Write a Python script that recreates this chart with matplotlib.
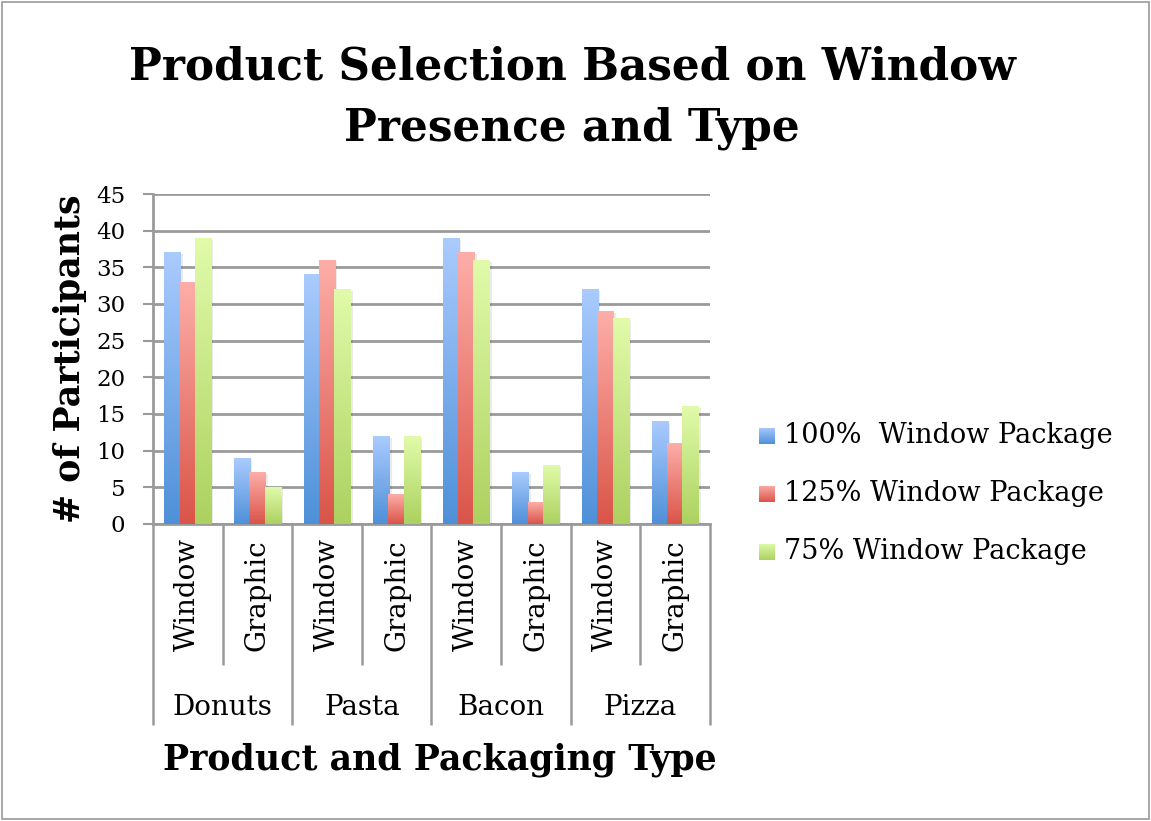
import numpy as np
import matplotlib.pyplot as plt
from matplotlib.colors import LinearSegmentedColormap
from matplotlib.patches import Rectangle
import matplotlib.transforms as mtransforms

plt.rcParams['font.family'] = ['DejaVu Serif']

products = ['Donuts', 'Pasta', 'Bacon', 'Pizza']
pack_types = ['Window', 'Graphic']
series_names = ['100%  Window Package', '125% Window Package', '75% Window Package']

# order: Donuts-Window, Donuts-Graphic, Pasta-Window, ...
win100 = [37, 9, 34, 12, 39, 7, 32, 14]
win125 = [33, 7, 36, 4, 37, 3, 29, 11]
win75 = [39, 5, 32, 12, 36, 8, 28, 16]

# (top colour, bottom colour) for the gradient fill
grad_colors = [('#aacbfe', '#4e90d8'), ('#fdaea9', '#da5448'), ('#e1fbaa', '#acd15f')]

fig = plt.figure(figsize=(11.51, 8.21), dpi=100)
fig.patches.append(Rectangle((0.0015, 0.002), 0.997, 0.996, transform=fig.transFigure,
                             fill=False, edgecolor='#999999', linewidth=1.2))

ax = fig.add_axes([0.1329, 0.3618, 0.4839, 0.4019])
ncat = len(win100)

bar_w = 0.235
offsets = [-0.22, 0.0, 0.22]
grad = np.linspace(1, 0, 256).reshape(-1, 1)

for s, vals in enumerate([win100, win125, win75]):
    cmap = LinearSegmentedColormap.from_list('g%d' % s, [grad_colors[s][1], grad_colors[s][0]])
    for i, v in enumerate(vals):
        x0 = i + 0.5 + offsets[s] - bar_w / 2
        # soft shadow
        ax.add_patch(Rectangle((x0 + 0.03, 0), bar_w, v - 0.25, facecolor='#000000',
                               alpha=0.08, edgecolor='none', zorder=2 + s))
        ax.imshow(grad, cmap=cmap, aspect='auto', extent=[x0, x0 + bar_w, 0, v],
                  zorder=3 + s, interpolation='bilinear')
ax.set_xlim(0, ncat)
ax.set_ylim(0, 45)

# grid and frame
ax.set_yticks(range(0, 46, 5))
ax.yaxis.grid(True, color='#9a9a9a', linewidth=2)
ax.set_axisbelow(True)
for side in ['top', 'right']:
    ax.spines[side].set_visible(False)
ax.spines['left'].set_color('#9a9a9a')
ax.spines['left'].set_linewidth(2)
ax.spines['bottom'].set_color('#9a9a9a')
ax.spines['bottom'].set_linewidth(2)
ax.tick_params(axis='y', length=7, width=1.5, color='#9a9a9a', labelsize=16.5, pad=13)
ax.set_xticks([])

# two-level category axis
trans = mtransforms.blended_transform_factory(ax.transData, ax.transAxes)
for i in range(ncat + 1):
    bottom = -0.609 if i % 2 == 0 else -0.427
    ax.plot([i, i], [0, bottom], transform=trans, color='#9a9a9a', linewidth=1.8,
            clip_on=False, solid_capstyle='butt')
for i in range(ncat):
    ax.text(i + 0.5, -0.215, pack_types[i % 2], transform=trans, rotation=90,
            ha='center', va='center', fontsize=20)
for j, p in enumerate(products):
    ax.text(2 * j + 1, -0.555, p, transform=trans, ha='center', va='center', fontsize=20)

ax.set_ylabel('# of Participants', fontsize=25, fontweight='bold')
ax.yaxis.set_label_coords(-0.118, 0.5)
fig.text(0.382, 0.074, 'Product and Packaging Type', ha='center', va='center',
         fontsize=25, fontweight='bold')
fig.text(0.497, 0.881, 'Product Selection Based on Window\nPresence and Type', ha='center',
         va='center', fontsize=31.5, fontweight='bold', linespacing=1.55)

# legend
for s, name in enumerate(series_names):
    y = 0.47 - s * 0.0707
    cmap = LinearSegmentedColormap.from_list('l%d' % s, [grad_colors[s][1], grad_colors[s][0]])
    lax = fig.add_axes([0.659, y - 0.011, 0.0139, 0.0195])
    lax.imshow(grad, cmap=cmap, aspect='auto', interpolation='bilinear')
    lax.axis('off')
    fig.text(0.681, y, name, ha='left', va='center', fontsize=19.5)

fig.savefig('out.png', dpi=100)
